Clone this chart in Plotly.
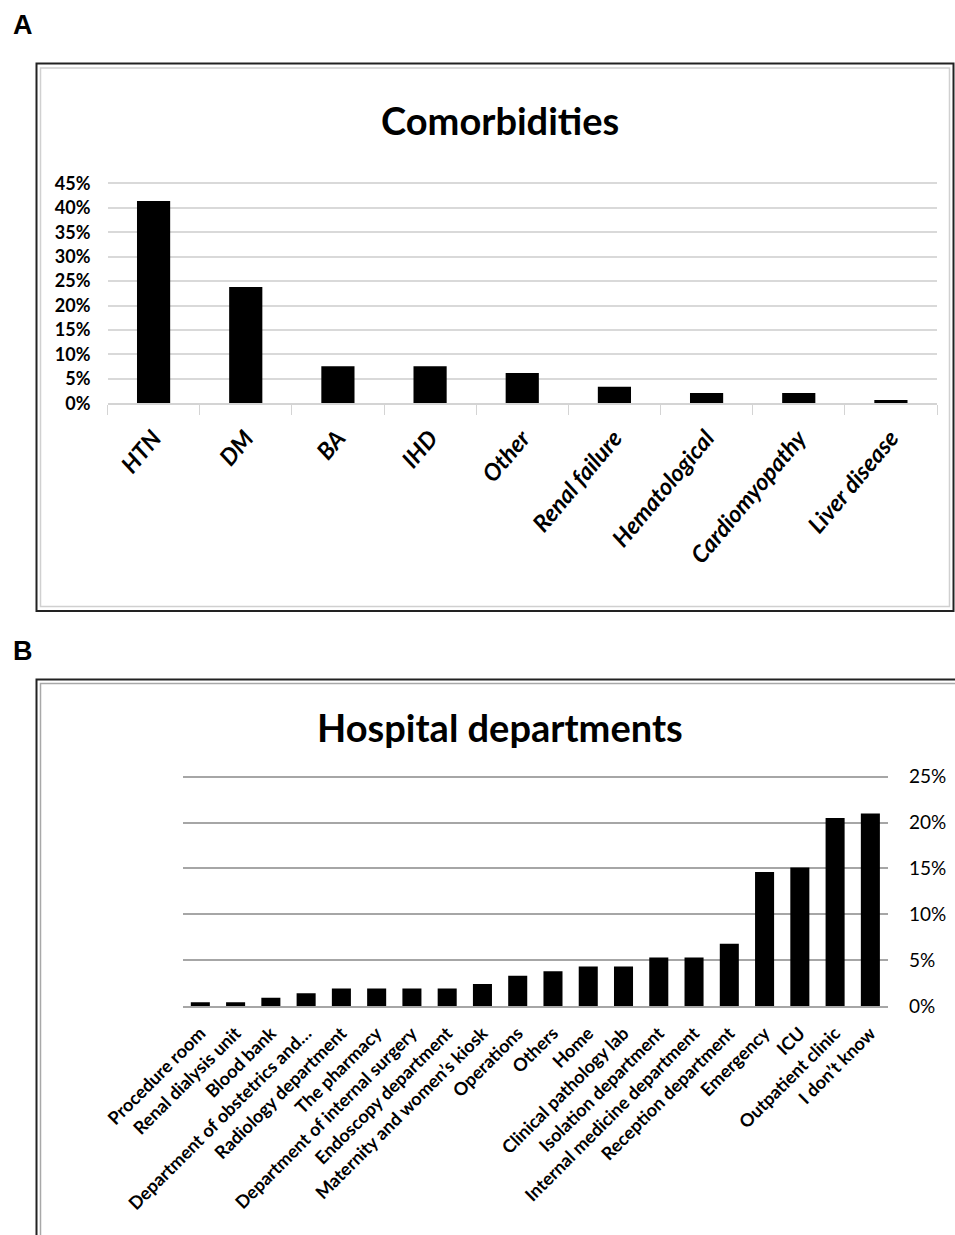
import plotly.graph_objects as go

# Panel A: comorbidities among respondents
comorbidities = ["HTN", "DM", "BA", "IHD", "Other", "Renal failure",
                 "Hematological", "Cardiomyopathy", "Liver disease"]
comorbidity_share = [0.414, 0.238, 0.076, 0.076, 0.062, 0.034, 0.021, 0.021, 0.007]

# Panel B: hospital departments
departments = [
    "Procedure room", "Renal dialysis unit", "Blood bank",
    "Department of obstetrics and…", "Radiology department", "The pharmacy",
    "Department of internal surgery", "Endoscopy department",
    "Maternity and women’s kiosk", "Operations", "Others", "Home",
    "Clinical pathology lab", "Isolation department",
    "Internal medicine department", "Reception department", "Emergency",
    "ICU", "Outpatient clinic", "I don’t know",
]
department_share = [0.004, 0.004, 0.009, 0.014, 0.019, 0.019, 0.019, 0.019,
                    0.024, 0.033, 0.038, 0.043, 0.043, 0.053, 0.053, 0.068,
                    0.146, 0.151, 0.205, 0.210]

W, H = 955, 1235
FONT = "Lato"
PAD = 1.006  # small headroom so the top gridline is not clipped


def px(x):
    return x / W


def py(y):
    return 1 - y / H


# plot-area pixel geometry
a_base, a_top = 403.3, 183.3
b_base, b_top = 1006.0, 776.7
a_top_pad = a_base - (a_base - a_top) * PAD
b_top_pad = b_base - (b_base - b_top) * PAD

fig = go.Figure()

fig.add_trace(go.Bar(x=comorbidities, y=comorbidity_share, marker_color="black",
                     marker_line_width=0, xaxis="x", yaxis="y", showlegend=False,
                     width=0.36))
fig.add_trace(go.Bar(x=departments, y=department_share, marker_color="black",
                     marker_line_width=0, xaxis="x2", yaxis="y2", showlegend=False,
                     width=0.54))

fig.update_layout(
    width=W, height=H,
    margin=dict(l=0, r=0, t=0, b=0, pad=0),
    paper_bgcolor="white", plot_bgcolor="white",
    font=dict(family=FONT, color="black"),
    xaxis=dict(
        domain=[px(107.5), px(937)], anchor="y", automargin=False,
        showgrid=False, showline=True, linecolor="#d4d4d4", linewidth=1.5,
        ticks="outside", tickson="boundaries", ticklen=10, tickcolor="#d4d4d4",
        tickwidth=1.2, tickangle=-50, ticklabelstandoff=10,
        tickfont=dict(family=FONT, size=23.5, weight="bold", style="italic", color="black"),
    ),
    yaxis=dict(
        domain=[py(a_base), py(a_top_pad)], anchor="x", automargin=False,
        range=[0, 0.45 * PAD], tickvals=[i * 0.05 for i in range(10)], tickformat=".0%",
        showgrid=True, gridcolor="#d9d9d9", gridwidth=1.5,
        zeroline=False, showline=False, ticks="", ticklabelstandoff=16,
        tickfont=dict(family=FONT, size=18, weight="bold", color="black"),
    ),
    xaxis2=dict(
        domain=[px(182.7), px(888)], anchor="y2", automargin=False,
        showgrid=False, showline=True, linecolor="#a6a6a6", linewidth=1.5,
        ticks="", tickangle=-45, ticklabelstandoff=8,
        tickfont=dict(family=FONT, size=18, weight="bold", color="black"),
    ),
    yaxis2=dict(
        domain=[py(b_base), py(b_top_pad)], anchor="x2", side="right", automargin=False,
        range=[0, 0.25 * PAD], tickvals=[i * 0.05 for i in range(6)], tickformat=".0%",
        showgrid=True, gridcolor="#a6a6a6", gridwidth=1.5,
        zeroline=False, showline=False, ticks="", ticklabelstandoff=20,
        tickfont=dict(family=FONT, size=19, color="black"),
    ),
)

annotations = [
    dict(text="A", x=px(11), y=py(25), xanchor="left", yanchor="middle",
         font=dict(family="Liberation Sans", size=27, weight="bold", color="black")),
    dict(text="B", x=px(11), y=py(651), xanchor="left", yanchor="middle",
         font=dict(family="Liberation Sans", size=27, weight="bold", color="black")),
    dict(text="Comorbidities", x=px(500), y=py(120), xanchor="center", yanchor="middle",
         font=dict(family=FONT, size=38, weight="bold", color="black")),
    dict(text="Hospital departments", x=px(500), y=py(727), xanchor="center",
         yanchor="middle", font=dict(family=FONT, size=38, weight="bold", color="black")),
]
for a in annotations:
    a.update(xref="paper", yref="paper", showarrow=False)
fig.update_layout(annotations=annotations)

shapes = []
# Frame around panel A: dark outer line with a light inner line
shapes.append(dict(type="rect", x0=px(36.5), x1=px(953.5), y0=py(63.5), y1=py(611),
                   line=dict(color="#222222", width=2)))
shapes.append(dict(type="rect", x0=px(40.5), x1=px(949.5), y0=py(68), y1=py(606.5),
                   line=dict(color="#d0d0d0", width=1.5)))
# Frame around panel B (runs off the right and bottom edges)
shapes.append(dict(type="path",
                   path=f"M {px(36.5)},{py(1240)} L {px(36.5)},{py(679.5)} L {px(960)},{py(679.5)}",
                   line=dict(color="#222222", width=2)))
shapes.append(dict(type="path",
                   path=f"M {px(40.5)},{py(1240)} L {px(40.5)},{py(683.5)} L {px(960)},{py(683.5)}",
                   line=dict(color="#a8a8a8", width=1.5)))
for s in shapes:
    s.update(xref="paper", yref="paper", layer="above")
fig.update_layout(shapes=shapes)

fig.write_html("out.html")
